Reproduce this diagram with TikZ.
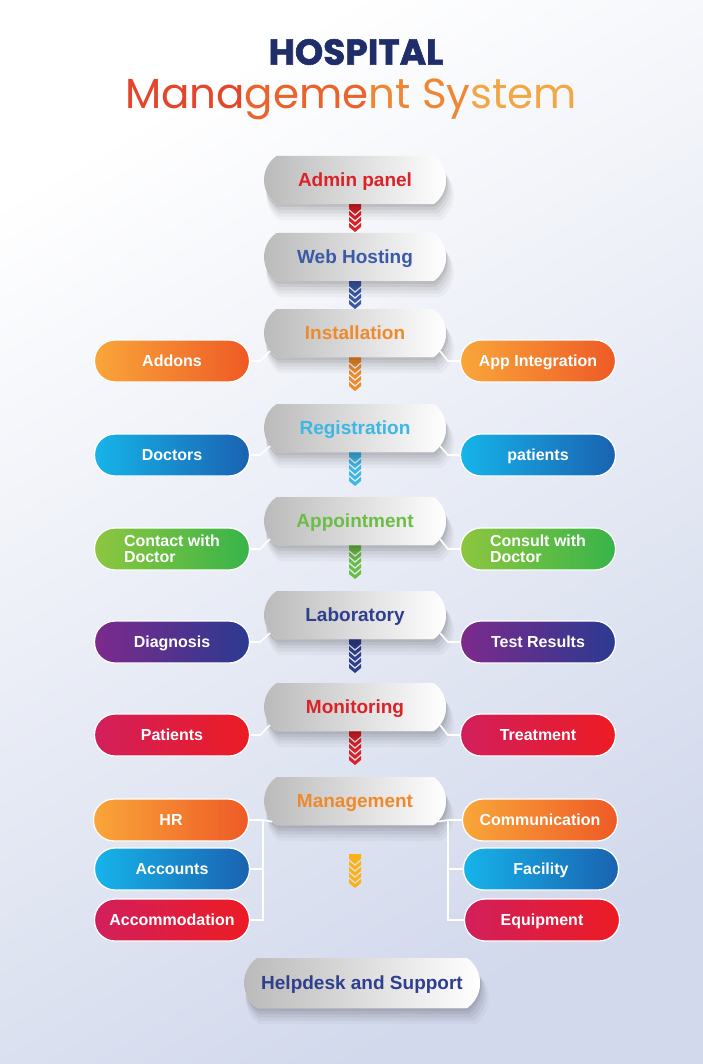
\documentclass[tikz,border=0pt]{standalone}
\usepackage{fontspec}
\setmainfont{Liberation Sans}
\newfontfamily\poppins{Poppins}
\newfontfamily\poppinsheavy{Poppins}[BoldFeatures={FakeBold=1.6}]
\usetikzlibrary{calc,shapes.misc,shadows}

\definecolor{bgLow}{HTML}{D2D9EC}
\definecolor{cTitle}{HTML}{1F2D69}
\definecolor{tA}{HTML}{E5452A}
\definecolor{tB}{HTML}{EA632D}
\definecolor{tC}{HTML}{EF8633}
\definecolor{tD}{HTML}{F3A744}
\definecolor{cRed}{HTML}{DA2229}
\definecolor{cBlue}{HTML}{3A5AA8}
\definecolor{cOrange}{HTML}{EF8A2C}
\definecolor{cSky}{HTML}{3DB7E4}
\definecolor{cGreen}{HTML}{6BBD45}
\definecolor{cNavy}{HTML}{2E3F8E}
\definecolor{cYellow}{HTML}{FBB216}
\definecolor{oL}{HTML}{F9A63A}
\definecolor{oR}{HTML}{EE5A25}
\definecolor{bL}{HTML}{16B4EA}
\definecolor{bR}{HTML}{1A62B0}
\definecolor{gL}{HTML}{8DC63F}
\definecolor{gR}{HTML}{38B449}
\definecolor{pL}{HTML}{7D2A8C}
\definecolor{pR}{HTML}{2B3A90}
\definecolor{rL}{HTML}{D21F5C}
\definecolor{rR}{HTML}{EC1C24}

\tikzset{
	stage/.style={rounded rectangle, rounded rectangle arc length=110,
		minimum width=182pt, minimum height=48pt, inner sep=0pt, text depth=0pt, fill=white,
		path picture={\shade[left color=black!27, right color=white] (path picture bounding box.south west) rectangle (path picture bounding box.north east);},
		font=\bfseries\fontsize{19}{19}\selectfont,
		drop shadow={shadow xshift=1pt, shadow yshift=-3pt, opacity=0.06, fill=black},
		drop shadow={shadow xshift=2pt, shadow yshift=-6pt, opacity=0.06, fill=black},
		drop shadow={shadow xshift=3pt, shadow yshift=-9pt, shadow scale=1.01, opacity=0.05, fill=black},
		drop shadow={shadow xshift=4pt, shadow yshift=-12pt, shadow scale=1.02, opacity=0.04, fill=black},
		drop shadow={shadow xshift=5pt, shadow yshift=-15pt, shadow scale=1.03, opacity=0.03, fill=black}},
	pill/.style 2 args={rounded corners=20.5pt, minimum width=155pt, minimum height=42pt, inner sep=0pt, text depth=0pt,
		draw=white, line width=1.3pt, left color=#1, right color=#2, text=white,
		font=\bfseries\fontsize{16}{16}\selectfont},
	link/.style={draw=white, line width=1.6pt},
}
\def\chevrons(#1)#2#3{%
	\fill[#2] ($(#1)+(-6,0)$) -- ++(12,0) -- ++(0,5) -- ++(-6,5) -- ++(-6,-5) -- cycle;
	\foreach \k in {1,...,#3}
		\fill[#2] ($(#1)+(-6,1+6*\k)$) -- ++(6,5) -- ++(6,-5) -- ++(0,4) -- ++(-6,5) -- ++(-6,-5) -- cycle;
}

\begin{document}
\begin{tikzpicture}[x=1pt, y=-1pt]
			%%%%% START %%%%%
			
			\useasboundingbox (0,0) rectangle (703,1064);
			\shade[top color=white, bottom color=bgLow, shading angle=30] (0,0) rectangle (703,1064);
			
			\node[font=\poppinsheavy\bfseries\fontsize{36}{36}\selectfont, text=cTitle] (title) at (356,52) {HOSPITAL};
			\node[font=\poppins\fontsize{42}{42}\selectfont] (subtitle) at (351,99) {\textcolor{tA}{Mana}\textcolor{tB}{geme}\textcolor{tC}{nt Sy}\textcolor{tD}{stem}};
			
			\chevrons(355,204){cRed}{3}
			\chevrons(355,281){cBlue}{3}
			\chevrons(355,357){cOrange}{4}
			\chevrons(355,452){cSky}{4}
			\chevrons(355,545){cGreen}{4}
			\chevrons(355,639){cNavy}{4}
			\chevrons(355,731){cRed}{4}
			\chevrons(355,854){cYellow}{4}
			
			\node[stage, text=cRed] (admin) at (355,180) {Admin panel};
			\node[stage, text=cBlue] (hosting) at (355,257) {Web Hosting};
			\node[stage, text=cOrange] (install) at (355,333) {Installation};
			\node[stage, text=cSky] (regist) at (355,428) {Registration};
			\node[stage, text=cGreen] (appoint) at (355,521) {Appointment};
			\node[stage, text=cNavy] (lab) at (355,615) {Laboratory};
			\node[stage, text=cRed] (monitor) at (355,707) {Monitoring};
			\node[stage, text=cOrange] (mgmt) at (355,801) {Management};
			\node[stage, text=cNavy, minimum width=236pt, minimum height=50pt] (help) at (362,983) {Helpdesk and Support};
			
			\node[pill={oL}{oR}] (addons) at (172,361) {Addons};
			\node[pill={oL}{oR}] (appint) at (538,361) {App Integration};
			\node[pill={bL}{bR}] (doctors) at (172,455) {Doctors};
			\node[pill={bL}{bR}] (patientsB) at (538,455) {patients};
			\node[pill={gL}{gR}, align=left] (contact) at (172,549) {Contact with\\Doctor};
			\node[pill={gL}{gR}, align=left] (consult) at (538,549) {Consult with\\Doctor};
			\node[pill={pL}{pR}] (diagnosis) at (172,642) {Diagnosis};
			\node[pill={pL}{pR}] (results) at (538,642) {Test Results};
			\node[pill={rL}{rR}] (patients) at (172,735) {Patients};
			\node[pill={rL}{rR}] (treatment) at (538,735) {Treatment};
			\node[pill={oL}{oR}] (hr) at (171,820) {HR};
			\node[pill={bL}{bR}] (accounts) at (172,869) {Accounts};
			\node[pill={rL}{rR}] (accom) at (172,920) {Accommodation};
			\node[pill={oL}{oR}] (comm) at (540,820) {Communication};
			\node[pill={bL}{bR}] (facility) at (541,869) {Facility};
			\node[pill={rL}{rR}] (equip) at (542,920) {Equipment};
			
			\draw[link] (addons.east) -- ($(addons.east)+(10,0)$) -- (install.192);
			\draw[link] (install.-12) -- ($(appint.west)+(-12,0)$) -- (appint.west);
			\draw[link] (doctors.east) -- ($(doctors.east)+(10,0)$) -- (regist.192);
			\draw[link] (regist.-12) -- ($(patientsB.west)+(-12,0)$) -- (patientsB.west);
			\draw[link] (contact.east) -- ($(contact.east)+(10,0)$) -- (appoint.192);
			\draw[link] (appoint.-12) -- ($(consult.west)+(-12,0)$) -- (consult.west);
			\draw[link] (diagnosis.east) -- ($(diagnosis.east)+(10,0)$) -- (lab.192);
			\draw[link] (lab.-12) -- ($(results.west)+(-12,0)$) -- (results.west);
			\draw[link] (patients.east) -- ($(patients.east)+(10,0)$) -- (monitor.192);
			\draw[link] (monitor.-12) -- ($(treatment.west)+(-12,0)$) -- (treatment.west);
			
			\coordinate (lbus) at (263,820);
			\coordinate (rbus) at (448,820);
			\draw[link] (mgmt.194) -- (lbus) |- (accom.east);
			\draw[link] (hr.east) -- (hr.east -| lbus);
			\draw[link] (accounts.east) -- (accounts.east -| lbus);
			\draw[link] (mgmt.-14) -- (rbus) |- (equip.west);
			\draw[link] (comm.west) -- (comm.west -| rbus);
			\draw[link] (facility.west) -- (facility.west -| rbus);
			
			%%%%% END %%%%%
\end{tikzpicture}
\end{document}
